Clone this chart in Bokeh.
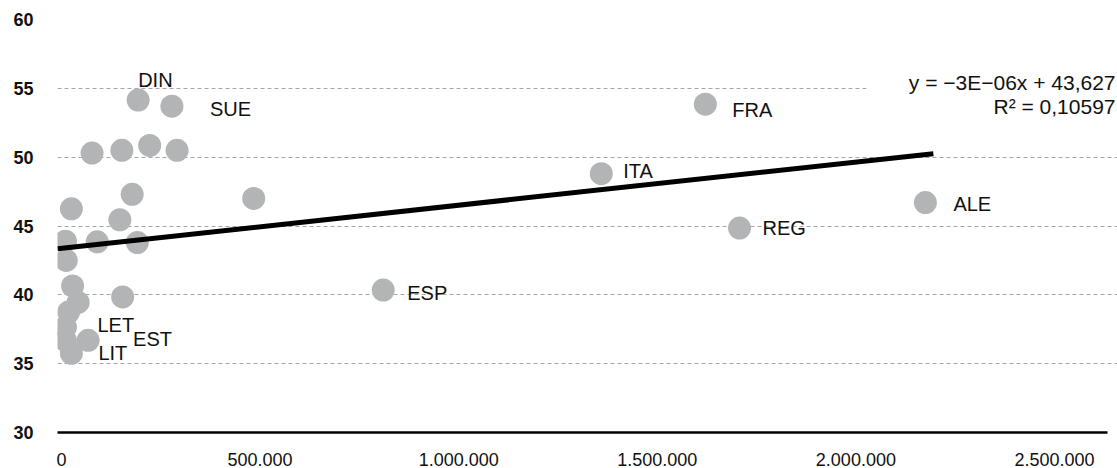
from bokeh.plotting import figure
from bokeh.models import ColumnDataSource, FixedTicker, Label, BoxAnnotation, Range1d
from bokeh.core.properties import value
from bokeh.embed import file_html
from bokeh.resources import INLINE

# ---------------- data ----------------
names = ["DIN", "SUE", "", "", "", "", "", "", "", "", "", "", "", "", "", "", "", "",
         "ESP", "LET", "", "EST", "LIT", "ITA", "FRA", "REG", "ALE"]
xs = [193000, 278000, 77000, 152000, 222000, 291000, 25000, 178000, 484000, 147000,
      10000, 90000, 191000, 12000, 28000, 42000, 18000, 154000,
      810000, 10000, 10000, 67000, 25000, 1359000, 1621000, 1707000, 2175000]
ys = [54.15, 53.7, 50.3, 50.5, 50.85, 50.5, 46.25, 47.3, 47.0, 45.45,
      43.9, 43.85, 43.8, 42.5, 40.65, 39.45, 38.75, 39.85,
      40.35, 37.65, 36.7, 36.7, 35.75, 48.8, 53.85, 44.85, 46.7]

trend_x = [-10000, 2195000]
trend_y = [43.35, 50.25]

eq_line1 = "y = −3E−06x + 43,627"
eq_line2 = "R² = 0,10597"

x_ticks = [0, 500000, 1000000, 1500000, 2000000, 2500000]
x_tick_labels = ["0", "500.000", "1.000.000", "1.500.000", "2.000.000", "2.500.000"]
y_ticks = [30, 35, 40, 45, 50, 55, 60]

# label offsets in screen pixels (style)
label_dx = {"DIN": 0, "SUE": 38, "FRA": 27, "ITA": 22, "REG": 23, "ALE": 28,
            "ESP": 24, "LET": 32, "EST": 45, "LIT": 27}
label_dy = {"DIN": -20, "SUE": 3, "FRA": 6, "ITA": -3, "REG": 0, "ALE": 1,
            "ESP": 3, "LET": -2, "EST": -1, "LIT": 0}

FONT = "Liberation Sans"
X_START, X_END = -10000, 2658600   # visible frame
AXIS_END = 2633500                 # where axis line and grid stop

p = figure(width=1117, height=468, output_backend="svg", toolbar_location=None,
           x_range=Range1d(X_START, X_END), y_range=Range1d(30, 60),
           min_border_left=57, min_border_right=0, min_border_top=19, min_border_bottom=36)
p.outline_line_color = None
p.background_fill_color = "white"
p.border_fill_color = "white"

# grid
p.xgrid.grid_line_color = None
p.ygrid.ticker = FixedTicker(ticks=y_ticks)
p.ygrid.bounds = (X_START, AXIS_END)
p.ygrid.grid_line_color = "#a6a6a6"
p.ygrid.grid_line_dash = "4 3"
p.ygrid.grid_line_width = 1

# y axis
p.yaxis.ticker = FixedTicker(ticks=y_ticks)
p.yaxis.axis_line_color = None
p.yaxis.major_tick_line_color = None
p.yaxis.minor_tick_line_color = None
p.yaxis.major_label_text_font = FONT
p.yaxis.major_label_text_font_style = "bold"
p.yaxis.major_label_text_font_size = "18px"
p.yaxis.major_label_text_color = "#111111"
p.yaxis.major_label_standoff = 18

# x axis
p.xaxis.ticker = FixedTicker(ticks=x_ticks)
p.xaxis.bounds = (X_START, AXIS_END)
p.xaxis.major_label_overrides = {t: l for t, l in zip(x_ticks, x_tick_labels)}
p.xaxis.axis_line_color = "black"
p.xaxis.axis_line_width = 2.5
p.xaxis.major_tick_line_color = None
p.xaxis.minor_tick_line_color = None
p.xaxis.major_label_text_font = FONT
p.xaxis.major_label_text_font_size = "18px"
p.xaxis.major_label_text_color = "#111111"
p.xaxis.major_label_standoff = 14

# white box behind the equation
p.add_layout(BoxAnnotation(left=2027000, bottom=52.6, top=57.4,
                           fill_color="white", fill_alpha=1.0, line_color=None))

# points
src = ColumnDataSource(dict(x=xs, y=ys, name=names))
p.scatter("x", "y", source=src, size=23, fill_color="#b3b4b6", line_color=None)

# trend line
p.line(trend_x, trend_y, line_color="black", line_width=5)

# point labels
lx, ly, lt, ldx, ldy = [], [], [], [], []
for n, x, y in zip(names, xs, ys):
    if n:
        lx.append(x); ly.append(y); lt.append(n)
        ldx.append(label_dx[n]); ldy.append(label_dy[n])
lsrc = ColumnDataSource(dict(x=lx, y=ly, t=lt, dx=ldx, dy=ldy))
p.text("x", "y", text="t", source=lsrc, x_offset="dx", y_offset="dy",
       text_font=value(FONT), text_font_size="20px", text_color="#111111",
       text_align="left", text_baseline="middle")

# equation
p.add_layout(Label(x=X_END, y=55.45, x_offset=-2, text=eq_line1, text_align="right",
                   text_baseline="middle", text_font=FONT, text_font_size="21px",
                   text_color="#111111"))
p.add_layout(Label(x=X_END, y=53.7, x_offset=-2, text=eq_line2, text_align="right",
                   text_baseline="middle", text_font=FONT, text_font_size="21px",
                   text_color="#111111"))

open("out.html", "w").write(file_html(p, INLINE))
